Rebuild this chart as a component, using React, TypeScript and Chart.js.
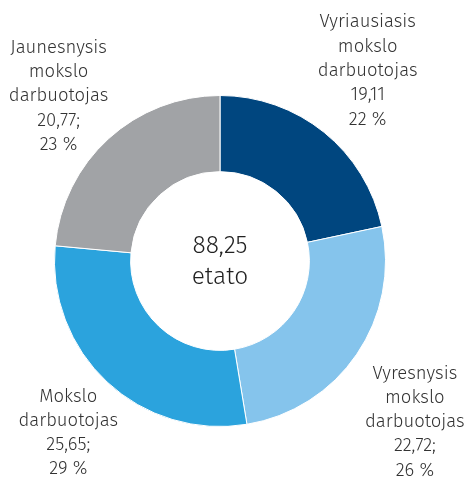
import React, { useEffect, useRef } from "react";
import { Chart, registerables } from "chart.js";

Chart.register(...registerables);

const categories: string[][] = [
  ["Vyriausiasis", "mokslo", "darbuotojas"],
  ["Vyresnysis", "mokslo", "darbuotojas"],
  ["Mokslo", "darbuotojas"],
  ["Jaunesnysis", "mokslo", "darbuotojas"],
];
const values: number[] = [19.11, 22.72, 25.65, 20.77];
const percents: number[] = [22, 26, 29, 23];
const valueSuffix: string[] = ["", ";", ";", ";"];
const centerUnit = "etato";

const colors = ["#00467F", "#85C4EC", "#2BA3DD", "#A1A3A6"];
const labelNudge: [number, number][] = [
  [-3, -4],
  [-3, 26],
  [11.5, -3.5],
  [0, 12],
];

const fmt = (v: number) => v.toFixed(2).replace(".", ",");
const FONT = '"Fira Sans", "Open Sans", sans-serif';

const labelPlugin = {
  id: "outerLabels",
  afterDraw(chart: any) {
    const ctx = chart.ctx;
    const meta = chart.getDatasetMeta(0);
    const total = values.reduce((a, b) => a + b, 0);
    ctx.save();
    ctx.fillStyle = "#333333";
    ctx.textAlign = "center";
    ctx.textBaseline = "middle";
    meta.data.forEach((arc: any, i: number) => {
      const p = arc.getProps(["x", "y", "startAngle", "endAngle", "outerRadius"], true);
      const mid = (p.startAngle + p.endAngle) / 2;
      const r = p.outerRadius + 74;
      const cx = p.x + Math.cos(mid) * r + labelNudge[i][0];
      const cy = p.y + Math.sin(mid) * r + labelNudge[i][1];
      const lines = [...categories[i], fmt(values[i]) + valueSuffix[i], percents[i] + " %"];
      ctx.font = `300 18.5px ${FONT}`;
      const lh = 24.3;
      lines.forEach((t, k) => {
        ctx.fillText(t, cx, cy + (k - (lines.length - 1) / 2) * lh);
      });
    });
    const a0 = meta.data[0];
    ctx.font = `300 24.5px ${FONT}`;
    ctx.fillStyle = "#222222";
    ctx.fillText(fmt(total), a0.x, a0.y - 15);
    ctx.fillText(centerUnit, a0.x, a0.y + 16);
    ctx.restore();
  },
};

export default function App() {
  const ref = useRef<HTMLCanvasElement | null>(null);
  useEffect(() => {
    if (!ref.current) return;
    const chart = new Chart(ref.current, {
      type: "doughnut",
      data: {
        labels: categories.map((c) => c.join(" ")),
        datasets: [
          {
            data: values,
            backgroundColor: colors,
            borderColor: "#ffffff",
            borderWidth: 1,
          },
        ],
      },
      options: {
        responsive: false,
        animation: false,
        cutout: "54%",
        layout: { padding: { left: 54, right: 83, top: 95, bottom: 51 } },
        plugins: { legend: { display: false }, tooltip: { enabled: false } },
      },
      plugins: [labelPlugin],
    });
    return () => chart.destroy();
  }, []);
  return (
    <div style={{ position: "absolute", left: 0, top: 0, width: 469, height: 478, background: "#fff" }}>
      <canvas ref={ref} width={469} height={478} />
    </div>
  );
}
